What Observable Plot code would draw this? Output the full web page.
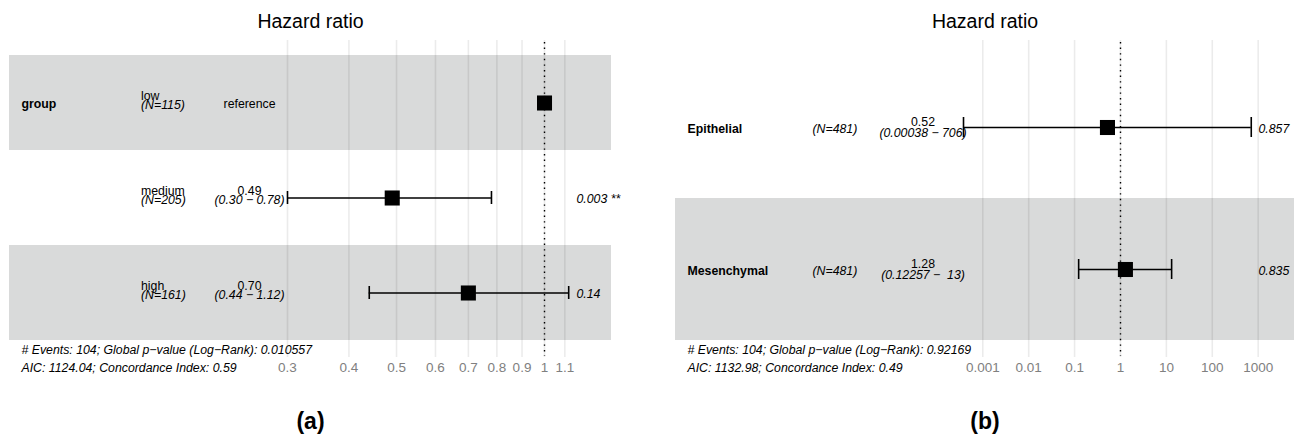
<!DOCTYPE html>
<html><head><meta charset="utf-8">
<script src="https://cdn.jsdelivr.net/npm/d3@7"></script>
<script src="https://cdn.jsdelivr.net/npm/@observablehq/plot@0.6"></script>
<style>
html,body{margin:0;padding:0;background:#fff;}
#wrap{display:flex;width:1302px;height:439px;}
#wrap > div{width:651px;height:439px;}
</style></head><body>
<div id="wrap"><div id="a"></div><div id="b"></div></div>
<script>
// ---------- Panel (a) data ----------
const aVariable = "group";
const aLevels = ["low", "medium", "high"];
const aN = [115, 205, 161];
const aHR = [1, 0.49, 0.70];
const aLo = [null, 0.30, 0.44];
const aHi = [null, 0.78, 1.12];
const aCI = [null, "(0.30 − 0.78)", "(0.44 − 1.12)"];
const aP = ["", "0.003 **", "0.14"];
const aTicks = [0.3, 0.4, 0.5, 0.6, 0.7, 0.8, 0.9, 1, 1.1];
const aFoot = ["# Events: 104; Global p−value (Log−Rank): 0.010557", "AIC: 1124.04; Concordance Index: 0.59"];

// ---------- Panel (b) data ----------
const bVariables = ["Epithelial", "Mesenchymal"];
const bN = [481, 481];
const bHR = [0.52, 1.28];
const bLo = [0.00038, 0.12257];
const bHi = [706, 13];
const bCI = ["(0.00038 − 706)", "(0.12257 −  13)"];
const bP = ["0.857", "0.835"];
const bTicks = [0.001, 0.01, 0.1, 1, 10, 100, 1000];
const bFoot = ["# Events: 104; Global p−value (Log−Rank): 0.92169", "AIC: 1132.98; Concordance Index: 0.49"];

const title = "Hazard ratio";
const FONT = '"Liberation Sans", Arial, Helvetica, sans-serif';

const aRows = aLevels.map((lv, i) => ({
  key: lv, variable: i === 0 ? aVariable : "", level: lv, nText: `(N=${aN[i]})`,
  hr: aHR[i], lo: aLo[i], hi: aHi[i],
  est: aLo[i] == null ? "reference" : aHR[i].toFixed(2), ci: aCI[i], p: aP[i]
}));
const bRows = bVariables.map((v, i) => ({
  key: v, variable: v, level: "", nText: `(N=${bN[i]})`,
  hr: bHR[i], lo: bLo[i], hi: bHi[i],
  est: bHR[i].toFixed(2), ci: bCI[i], p: bP[i]
}));

function forest(rows, ticks, foot, label, L) {
  const n = rows.length;
  const withCI = rows.filter(d => d.lo != null);
  const noCI = rows.filter(d => d.lo == null);
  const base = {y: "key", frameAnchor: "left", lineAnchor: "bottom"};
  return Plot.plot({
    width: 651, height: 439,
    marginLeft: L.ml, marginRight: L.mr, marginTop: 55, marginBottom: 99,
    x: {type: "log", domain: L.xDomain, axis: null},
    y: {type: "band", domain: rows.map(d => d.key), padding: 0, axis: null},
    style: {fontFamily: FONT, fontSize: "12.3px", color: "black", background: "white", overflow: "visible"},
    marks: [
      Plot.cell(rows.filter((d, i) => (n - 1 - i) % 2 === 0), {y: "key", fill: "#d9dada"}),
      Plot.ruleX(ticks, {stroke: "black", strokeOpacity: 0.08, strokeWidth: 1.6, insetTop: -15, insetBottom: -17}),
      Plot.text(ticks, {x: d => d, text: d => String(d), frameAnchor: "bottom", dy: 22, lineAnchor: "top", fontSize: 13.5, fill: "#808080"}),
      Plot.ruleX([1], {stroke: "black", strokeWidth: 1.4, strokeDasharray: "1.4,4.2", insetTop: -13, insetBottom: -16}),
      Plot.ruleY(withCI, {y: "key", x1: "lo", x2: "hi", stroke: "black", strokeWidth: 1.6}),
      Plot.tickX(withCI, {y: "key", x: "lo", stroke: "black", strokeWidth: 1.6, insetTop: L.cap, insetBottom: L.cap}),
      Plot.tickX(withCI, {y: "key", x: "hi", stroke: "black", strokeWidth: 1.6, insetTop: L.cap, insetBottom: L.cap}),
      Plot.dot(rows, {y: "key", x: "hr", symbol: "square", r: 8.5, fill: "black"}),
      Plot.text(rows, {...base, text: "variable", dx: L.cVar, dy: L.dMid, textAnchor: "start", fontWeight: "bold"}),
      Plot.text(rows, {...base, text: "level", dx: L.cLevel, dy: L.dLevel, textAnchor: "start"}),
      Plot.text(rows, {...base, text: "nText", dx: L.cLevel, dy: L.dN, textAnchor: "start", fontStyle: "italic"}),
      Plot.text(noCI, {...base, text: "est", dx: L.cEst, dy: L.dMid, textAnchor: "middle"}),
      Plot.text(withCI, {...base, text: "est", dx: L.cEst, dy: L.dEst1, textAnchor: "middle"}),
      Plot.text(withCI, {...base, text: "ci", dx: L.cEst, dy: L.dEst2, textAnchor: "middle", fontStyle: "italic"}),
      Plot.text(rows, {...base, text: "p", dx: L.cP, dy: L.dMid, textAnchor: "start", fontStyle: "italic"}),
      Plot.text([foot.join("\n")], {frameAnchor: "bottom-left", dx: 12, dy: 31, lineAnchor: "bottom", lineHeight: 1.46, textAnchor: "start", fontStyle: "italic"}),
      Plot.text([title], {frameAnchor: "top", dy: -28, lineAnchor: "bottom", fontSize: 19.5}),
      Plot.text([label], {frameAnchor: "bottom", dy: 88, lineAnchor: "bottom", fontSize: 23, fontWeight: "bold"})
    ]
  });
}

document.getElementById("a").appendChild(forest(aRows, aTicks, aFoot, "(a)", {
  ml: 9, mr: 40, xDomain: [0.08157, 1.3687], cap: 41,
  cVar: 12, cLevel: 131.5, cEst: 240, cP: 567,
  dMid: 5, dLevel: -3, dN: 6, dEst1: -3, dEst2: 6
}));
document.getElementById("b").appendChild(forest(bRows, bTicks, bFoot, "(b)", {
  ml: 24, mr: 8, xDomain: [Math.pow(10, -9.695), Math.pow(10, 3.791)], cap: 61,
  cVar: 12, cLevel: 137, cEst: 247.5, cP: 583,
  dMid: 5, dLevel: -1, dN: 5, dEst1: -1.5, dEst2: 9
}));
</script>
</body></html>
